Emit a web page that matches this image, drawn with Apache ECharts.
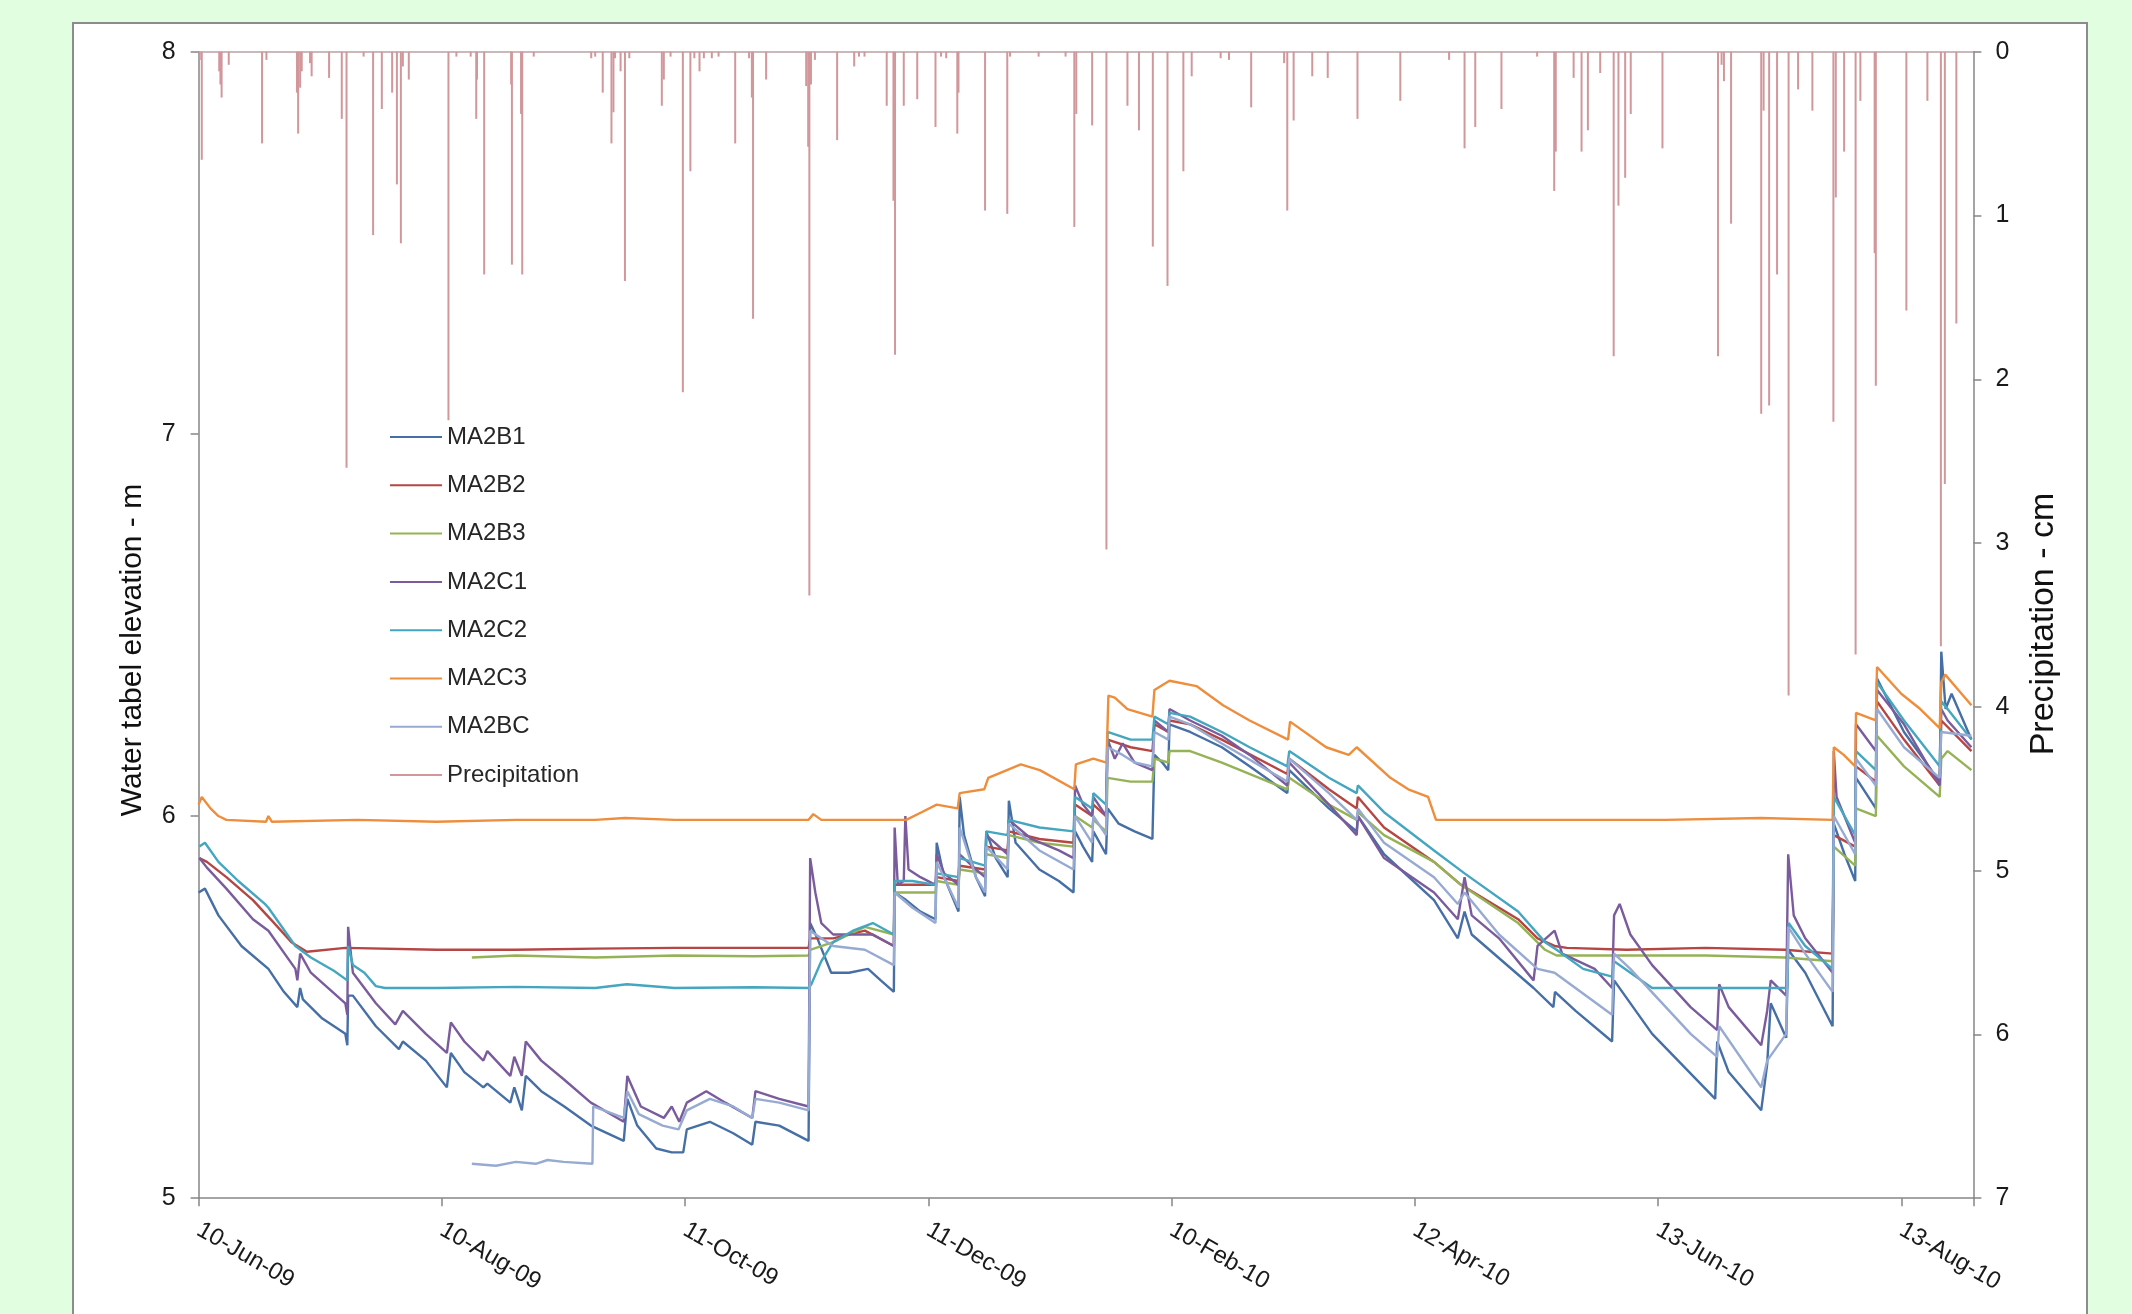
<!DOCTYPE html>
<html>
<head>
<meta charset="utf-8">
<script src="https://cdn.jsdelivr.net/npm/echarts@6/dist/echarts.min.js"></script>
<style>
html,body{margin:0;padding:0;background:#E1FEE1;overflow:hidden;}
#panel{position:absolute;left:72px;top:22px;width:2012px;height:1400px;background:#fff;border:2px solid #8c8c8c;}
#c{position:absolute;left:0;top:0;width:2132px;height:1314px;}
</style>
</head>
<body>
<div id="panel"></div>
<div id="c"></div>
<script>
// x values are days after 10-Jun-09
const tickLabels = ['10-Jun-09','10-Aug-09','11-Oct-09','11-Dec-09','10-Feb-10','12-Apr-10','13-Jun-10','13-Aug-10'];
const seriesNames = ['MA2B1','MA2B2','MA2B3','MA2C1','MA2C2','MA2C3','MA2BC','Precipitation'];

const MA2B1 = [[0,5.80],[1.6,5.81],[5,5.74],[10.8,5.66],[17.6,5.60],[21.5,5.54],[24.9,5.50],[25.6,5.55],[26.3,5.52],[31.2,5.47],[37.0,5.43],[37.5,5.40],[37.7,5.53],[38.9,5.53],[44.7,5.45],[50.5,5.39],[51.5,5.41],[57.3,5.36],[62.6,5.29],[63.6,5.38],[67,5.33],[71.8,5.29],[72.8,5.30],[78.6,5.25],[79.6,5.29],[81.5,5.23],[82.5,5.32],[86.4,5.28],[92.2,5.24],[98.9,5.19],[107.2,5.15],[108.1,5.26],[110.6,5.19],[115.4,5.13],[119.3,5.12],[122.2,5.12],[123.1,5.18],[128.9,5.20],[134.8,5.17],[139.6,5.14],[140.4,5.20],[146.4,5.19],[153.8,5.15],
[154.2,5.72],[156,5.68],[159.5,5.59],[164,5.59],[168.8,5.60],[172,5.57],[175.3,5.54],
[175.5,5.80],[178.4,5.78],[182,5.75],[185.8,5.73],[186.1,5.93],[188,5.84],[191.6,5.75],[191.9,6.05],[193,5.95],[196,5.84],[198.3,5.79],[198.6,5.96],[201,5.89],[204,5.84],[204.3,6.04],[206,5.93],[212,5.86],[216.9,5.83],[220.6,5.80],[221,5.96],[223,5.92],[225.3,5.88],[225.6,5.96],[228.8,5.90],[229.2,6.02],[232,5.98],[236,5.96],[240.5,5.94],[241,6.16],[243,6.14],[244.5,6.12],[244.8,6.24],[250,6.22],[258,6.18],[265,6.13],[274.5,6.06],[275,6.12],[285,6.02],[292,5.96],[292.3,6.00],[298.9,5.90],[311.5,5.78],[317.5,5.68],[319.2,5.75],[321,5.69],[336.6,5.55],[341.6,5.50],[342,5.54],[347.2,5.49],[356.4,5.41],[356.9,5.57],[366.5,5.43],[382.4,5.26],[382.9,5.41],[385.8,5.33],[394,5.23],[395.5,5.35],[396.4,5.51],[400.3,5.42],[400.8,5.65],[405.1,5.59],[412,5.45],[412.3,5.98],[415,5.90],[417.7,5.83],[417.9,6.10],[422.9,6.02],[423.2,6.36],[430,6.22],[439,6.09],[439.4,6.43],[440.5,6.28],[442,6.32],[447,6.20]];

const MA2B2 = [[0.2,5.89],[2.1,5.88],[7,5.84],[13.7,5.78],[18.6,5.725],[23.4,5.67],[27.3,5.645],[37,5.655],[60,5.65],[80,5.65],[100,5.653],[120,5.655],[140,5.655],[153.8,5.655],
[154.2,5.68],[160,5.68],[168,5.70],[175.3,5.66],
[175.5,5.82],[185.8,5.82],[186.1,5.84],[191.6,5.83],[191.9,5.87],[198.3,5.86],[198.6,5.92],[204,5.91],[204.3,5.96],[212,5.94],[220.6,5.93],[221,6.03],[225.3,6.00],[225.6,6.03],[228.8,6.00],[229.2,6.20],[235,6.18],[240.5,6.17],[241,6.24],[244.5,6.22],[244.8,6.25],[250,6.24],[258,6.20],[274.5,6.11],[275,6.15],[285,6.07],[292,6.02],[292.3,6.05],[298.9,5.97],[311.5,5.88],[318.3,5.82],[332.7,5.73],[337.6,5.68],[341.9,5.66],[345,5.655],[360,5.65],[380,5.655],[400,5.65],[412,5.64],[412.3,5.95],[417.7,5.92],[417.9,6.13],[422.9,6.09],[423.2,6.30],[430,6.20],[439,6.08],[439.4,6.25],[447,6.17]];

const MA2B3 = [[68.9,5.63],[80,5.635],[100,5.63],[120,5.635],[140,5.633],[153.8,5.635],
[154.2,5.65],[160,5.67],[168,5.71],[175.3,5.69],
[175.5,5.80],[185.8,5.80],[186.1,5.83],[191.6,5.82],[191.9,5.86],[198.3,5.85],[198.6,5.90],[204,5.89],[204.3,5.95],[212,5.93],[220.6,5.92],[221,6.00],[225.3,5.97],[225.6,5.99],[228.8,5.96],[229.2,6.10],[235,6.09],[240.5,6.09],[241,6.15],[244.5,6.14],[244.8,6.17],[250,6.17],[258,6.14],[274.5,6.07],[275,6.10],[285,6.03],[292,5.99],[292.3,6.01],[298.9,5.95],[311.5,5.88],[318.3,5.82],[332.7,5.72],[339.5,5.65],[342.4,5.635],[360,5.635],[380,5.635],[400,5.63],[412,5.62],[412.3,5.92],[417.7,5.87],[417.9,6.02],[422.9,6.00],[423.2,6.21],[430,6.13],[439,6.05],[439.4,6.15],[441,6.17],[447,6.12]];

const MA2C1 = [[0.2,5.89],[2.1,5.865],[7,5.81],[13.7,5.73],[17.6,5.70],[24.4,5.60],[24.9,5.57],[25.6,5.64],[28.3,5.59],[37,5.51],[37.5,5.48],[37.7,5.71],[38.9,5.59],[44.7,5.51],[49.6,5.455],[51.5,5.49],[57.3,5.43],[62.6,5.38],[63.6,5.46],[67,5.41],[71.8,5.36],[72.8,5.385],[78.6,5.32],[79.6,5.37],[81.5,5.32],[82.5,5.41],[86.4,5.36],[92.2,5.31],[98.9,5.25],[107.2,5.20],[108.1,5.32],[111.5,5.24],[117.3,5.21],[119.3,5.24],[121.2,5.20],[123.1,5.25],[128,5.28],[132.8,5.25],[139.6,5.21],[140.4,5.28],[146.4,5.26],[153.8,5.24],
[154.2,5.89],[155.5,5.80],[157,5.72],[160,5.69],[165,5.69],[170,5.69],[175.3,5.66],
[175.5,5.97],[176.3,5.82],[177.8,5.83],[178.2,6.00],[179,5.86],[182,5.84],[185.8,5.82],[186.1,5.90],[188,5.85],[191.6,5.82],[191.9,5.90],[196,5.86],[198.3,5.84],[198.6,5.95],[204,5.90],[204.3,5.99],[210,5.94],[216.9,5.91],[220.6,5.89],[221,6.08],[223,6.03],[225.3,6.00],[225.6,6.05],[228.8,6.00],[229.2,6.20],[231,6.15],[233,6.19],[236,6.14],[240.5,6.12],[241,6.25],[244.5,6.22],[244.8,6.28],[250,6.25],[258,6.21],[265,6.16],[274.5,6.08],[275,6.14],[285,6.03],[292,5.95],[292.3,6.00],[298.9,5.89],[311.5,5.80],[317.5,5.73],[319.2,5.84],[321,5.74],[327.9,5.68],[336.6,5.57],[337.6,5.66],[341.9,5.70],[343.8,5.64],[352,5.60],[356.4,5.55],[356.9,5.74],[358.3,5.77],[361,5.69],[366.5,5.61],[376.2,5.50],[382.9,5.44],[383.4,5.56],[385.8,5.50],[394,5.40],[395.5,5.49],[396.4,5.57],[400.3,5.53],[400.8,5.90],[402.2,5.74],[405.1,5.68],[412,5.59],[412.3,6.17],[413,6.05],[417.7,5.93],[417.9,6.24],[422.9,6.17],[423.2,6.33],[430,6.24],[439,6.08],[439.4,6.28],[441,6.25],[447,6.18]];

const MA2C2 = [[0.2,5.92],[1.6,5.93],[5,5.88],[10,5.83],[16.7,5.77],[17.6,5.76],[24.4,5.66],[28.3,5.63],[34.1,5.595],[37.5,5.57],[37.7,5.66],[38.9,5.61],[41.8,5.59],[44.7,5.555],[47,5.55],[60,5.55],[80,5.553],[100,5.55],[108,5.56],[120,5.55],[140,5.552],[153.8,5.55],
[154.5,5.56],[157,5.62],[160,5.67],[165,5.70],[170,5.72],[175.3,5.69],
[175.5,5.83],[180,5.83],[185.8,5.82],[186.1,5.85],[191.6,5.84],[191.9,5.89],[198.3,5.87],[198.6,5.96],[204,5.95],[204.3,5.99],[212,5.97],[220.6,5.96],[221,6.05],[225.3,6.02],[225.6,6.06],[228.8,6.03],[229.2,6.22],[235,6.20],[240.5,6.20],[241,6.26],[244.5,6.24],[244.8,6.27],[250,6.26],[258,6.22],[265,6.18],[274.5,6.13],[275,6.17],[285,6.10],[292,6.06],[292.3,6.08],[298.9,6.01],[311.5,5.91],[319.2,5.85],[332.7,5.75],[339.5,5.67],[342.4,5.65],[349.1,5.60],[356.4,5.58],[356.9,5.62],[366.5,5.55],[380,5.55],[395,5.55],[400.6,5.55],[400.9,5.72],[405.1,5.66],[412,5.60],[412.3,6.05],[415,6.00],[417.7,5.95],[417.9,6.17],[422.9,6.12],[423.2,6.35],[430,6.25],[439,6.13],[439.4,6.30],[441,6.28],[447,6.20]];

const MA2C3 = [[0,6.03],[0.8,6.05],[3,6.02],[5,6.0],[7,5.99],[17,5.985],[17.6,6.00],[18.5,5.985],[40,5.99],[60,5.985],[80,5.99],[100,5.99],[107.5,5.995],[120,5.99],[140,5.99],[153.8,5.99],[155,6.005],[157,5.99],[175,5.99],[178.4,5.99],[182.3,6.01],[186.1,6.03],[191.4,6.02],[191.9,6.06],[198.1,6.07],[199.1,6.10],[207.3,6.135],[212.1,6.12],[220.8,6.07],[221.2,6.135],[225.6,6.15],[228.9,6.14],[229.4,6.315],[231,6.31],[234.2,6.28],[240.5,6.26],[241,6.33],[244.8,6.354],[251.6,6.34],[258.3,6.29],[265,6.25],[274.7,6.20],[275.2,6.247],[284.3,6.18],[290,6.16],[292,6.18],[300.5,6.10],[305,6.07],[310,6.05],[312,5.99],[330,5.99],[350,5.99],[370,5.99],[394,5.995],[412,5.99],[412.3,6.18],[414.8,6.16],[417.7,6.13],[417.9,6.27],[422.9,6.25],[423.2,6.39],[429.3,6.32],[434.1,6.28],[439,6.23],[439.4,6.35],[440.4,6.37],[443.7,6.33],[447,6.29]];

const MA2BC = [[68.9,5.09],[75,5.085],[80,5.095],[85,5.09],[88,5.10],[92,5.095],[99.3,5.09],[99.5,5.24],[107.2,5.21],[108.1,5.28],[111,5.22],[117,5.19],[121,5.18],[123.1,5.23],[128.9,5.26],[134.8,5.24],[139.6,5.21],[140.4,5.26],[146.4,5.25],[153.8,5.23],
[154.2,5.70],[157,5.68],[160,5.66],[168,5.65],[175.3,5.61],
[175.5,5.80],[180,5.76],[185.8,5.72],[186.1,5.88],[191.6,5.76],[191.9,5.97],[196,5.84],[198.3,5.80],[198.6,5.92],[204,5.86],[204.3,5.98],[212,5.91],[220.6,5.86],[221,6.00],[225.3,5.93],[225.6,6.00],[228.8,5.95],[229.2,6.18],[233,6.16],[236,6.14],[240.5,6.13],[241,6.22],[244.5,6.20],[244.8,6.26],[250,6.24],[258,6.19],[274.5,6.09],[275,6.15],[285,6.06],[292,5.99],[292.3,6.02],[298.9,5.93],[311.5,5.84],[317.5,5.77],[319.2,5.80],[327.9,5.69],[337.6,5.60],[341.9,5.59],[356.4,5.48],[356.9,5.64],[361,5.60],[376.2,5.43],[382.9,5.37],[383.4,5.45],[394,5.29],[395.5,5.36],[400.3,5.43],[400.8,5.71],[405.1,5.64],[412,5.54],[412.3,6.00],[417.7,5.90],[417.9,6.15],[422.9,6.08],[423.2,6.28],[430,6.18],[439,6.10],[439.4,6.22],[447,6.21]];

const precipitation = [[0.3,0.05],[0.8,0.66],[5.2,0.12],[5.5,0.2],[5.8,0.28],[7.6,0.08],[16,0.56],[17.1,0.05],[24.8,0.25],[25.1,0.5],[25.6,0.22],[26,0.12],[28.1,0.07],[28.5,0.15],[32.9,0.16],[36.1,0.41],[37.3,2.54],[41.6,0.03],[44,1.12],[46.2,0.35],[48.8,0.25],[50,0.81],[51,1.17],[51.5,0.09],[53,0.17],[63,2.25],[65,0.03],[68.6,0.03],[70,0.41],[70.2,0.17],[72,1.36],[78.8,0.2],[79,1.30],[81.3,0.38],[81.6,1.36],[84.5,0.03],[99,0.04],[100,0.03],[101.9,0.25],[104.1,0.56],[104.6,0.37],[105,0.04],[106.4,0.12],[107.5,1.40],[108.6,0.04],[116.8,0.33],[117.3,0.17],[119,0.03],[122.1,2.08],[124,0.73],[125,0.04],[126.3,0.12],[127.4,0.04],[129.4,0.04],[131.1,0.03],[135.3,0.56],[138.8,0.04],[139.5,0.28],[139.8,1.63],[143.1,0.17],
[153.2,0.21],[153.7,0.58],[154,3.32],[154.4,0.2],[155.4,0.05],[161,0.54],[165.3,0.09],[166.5,0.03],[167.9,0.03],[173.5,0.33],[175.2,0.91],[175.6,1.85],[177.8,0.33],[181.2,0.29],[185.8,0.46],[187.2,0.03],[188.5,0.04],[191.3,0.50],[191.6,0.25],[198.3,0.97],[203.9,0.99],[204.6,0.03],[211.8,0.03],[218.6,0.03],[220.8,1.07],[221.3,0.38],[225.3,0.45],[228.9,3.04],[234.2,0.33],[237.1,0.48],[240.6,1.19],[244.3,1.43],[248.3,0.73],[250.4,0.15],[257.7,0.04],[259.8,0.05],[265.4,0.34],[273.7,0.07],[274.5,0.97],[276.1,0.42],[280.8,0.15],[284.7,0.16],[292.2,0.41],
[303,0.30],[315.3,0.05],[319.2,0.59],[321.9,0.46],[328.5,0.35],[337.5,0.03],[341.8,0.85],[342.2,0.61],[346.7,0.16],[348.7,0.61],[350.3,0.48],[353.4,0.13],[356.8,1.86],[358,0.94],[359.7,0.77],[361.1,0.38],[369.1,0.59],[383.1,1.86],[384,0.08],[384.6,0.18],[386.4,1.05],[394,2.21],[394.6,0.36],[396,2.16],[398,1.36],[400.9,3.93],[403.3,0.23],[406.9,0.36],[412.2,2.26],[412.8,0.89],[414.9,0.61],[417.8,3.68],[419,0.30],[422.6,1.23],[422.9,2.04],[430.6,1.58],[435.9,0.30],[439.3,3.63],[440.3,2.64],[443.2,1.66]];

const colors = ['#456FA5','#B54644','#95B356','#7A5C9C','#45A6BF','#EE8E3C','#97AAD2','#D1979B'];
const TICK_STEP = 184 / 3;
const FONT = 'Liberation Sans, Arial, sans-serif';

const chart = echarts.init(document.getElementById('c'), null, {renderer: 'canvas'});
const lineData = [MA2B1, MA2B2, MA2B3, MA2C1, MA2C2, MA2C3, MA2BC];
const series = lineData.map((d, i) => ({
  type: 'line', name: seriesNames[i], data: d, xAxisIndex: 0, yAxisIndex: 0,
  symbol: 'none', showSymbol: false, lineStyle: {width: 2.4, color: colors[i]}, itemStyle: {color: colors[i]},
  animation: false
}));
series.push({
  type: 'bar', name: 'Precipitation', data: precipitation, xAxisIndex: 0, yAxisIndex: 1,
  barWidth: 2, itemStyle: {color: colors[7]}, animation: false
});

chart.setOption({
  backgroundColor: 'transparent',
  animation: false,
  grid: {left: 198.6, right: 158.6, top: 51.7, bottom: 115.8, containLabel: false},
  legend: {
    orient: 'vertical', left: 385, top: 420, itemWidth: 52, itemHeight: 2, itemGap: 24.3,
    icon: 'rect', data: seriesNames,
    textStyle: {fontSize: 24, lineHeight: 24, color: '#262626', fontFamily: FONT}
  },
  xAxis: [{
    type: 'value', min: 0, max: 447.5, interval: TICK_STEP,
    axisLine: {show: true, onZero: false, lineStyle: {color: '#868686', width: 1.5}},
    axisTick: {show: true, length: 8, lineStyle: {color: '#868686', width: 1.5}},
    axisLabel: {
      rotate: -30, margin: 30, fontSize: 24, color: '#1a1a1a', fontFamily: FONT,
      formatter: v => { const i = Math.round(v / TICK_STEP); return (Math.abs(v - i * TICK_STEP) < 0.05 && tickLabels[i]) ? tickLabels[i] : ''; }
    },
    splitLine: {show: false}
  }, {
    type: 'value', position: 'top', min: 0, max: 447.5,
    axisLine: {show: true, onZero: false, lineStyle: {color: '#B9A3A5', width: 1.5}},
    axisTick: {show: false}, axisLabel: {show: false}, splitLine: {show: false}
  }],
  yAxis: [{
    type: 'value', min: 5, max: 8, interval: 1, position: 'left',
    axisLine: {show: true, onZero: false, lineStyle: {color: '#868686', width: 1.5}},
    axisTick: {show: true, length: 8, lineStyle: {color: '#868686', width: 1.5}},
    axisLabel: {margin: 23, fontSize: 25, color: '#1a1a1a', fontFamily: FONT},
    splitLine: {show: false}
  }, {
    type: 'value', min: 0, max: 7, interval: 1, position: 'right', inverse: true,
    axisLine: {show: true, onZero: false, lineStyle: {color: '#868686', width: 1.5}},
    axisTick: {show: true, length: 8, lineStyle: {color: '#868686', width: 1.5}},
    axisLabel: {margin: 22, fontSize: 25, color: '#1a1a1a', fontFamily: FONT},
    splitLine: {show: false}
  }],
  graphic: [{
    type: 'text', x: 133, y: 650, rotation: Math.PI / 2,
    style: {text: 'Water tabel elevation - m', fontSize: 30, fontFamily: FONT, fill: '#111', align: 'center', verticalAlign: 'middle'}
  }, {
    type: 'text', x: 2044, y: 624, rotation: Math.PI / 2,
    style: {text: 'Precipitation - cm', fontSize: 34, fontFamily: FONT, fill: '#111', align: 'center', verticalAlign: 'middle'}
  }],
  series: series
});
</script>
</body>
</html>
